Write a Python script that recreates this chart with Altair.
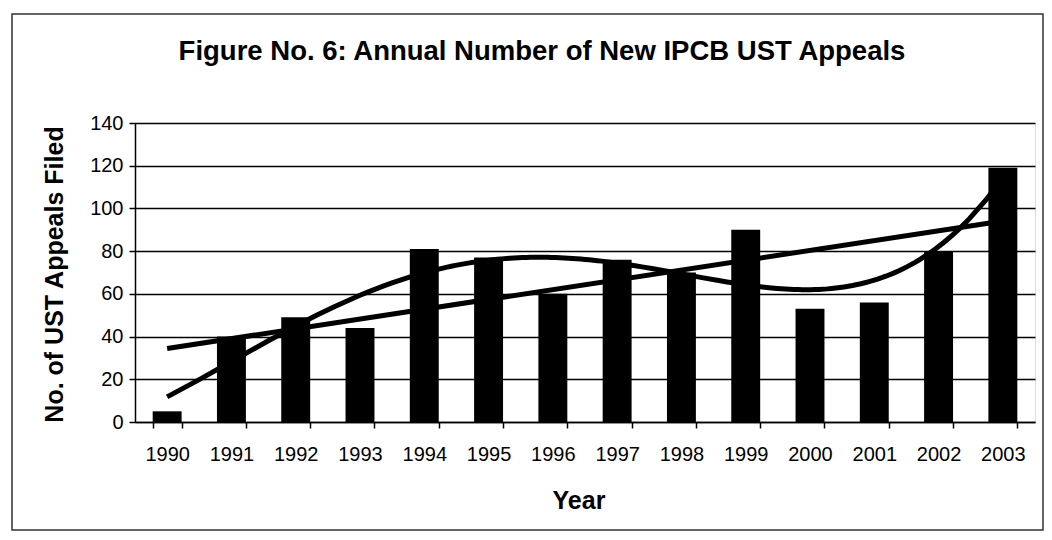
import altair as alt
import pandas as pd

years = [1990, 1991, 1992, 1993, 1994, 1995, 1996, 1997, 1998, 1999, 2000, 2001, 2002, 2003]
appeals = [5, 40, 49, 44, 81, 77, 60, 76, 70, 90, 53, 56, 80, 119]
y_ticks = [0, 20, 40, 60, 80, 100, 120, 140]
title_text = "Figure No. 6:  Annual Number of New IPCB UST Appeals"

df = pd.DataFrame({"Year": years, "Appeals": appeals})

FONT = "Liberation Sans"

y_enc = alt.Y(
    "Appeals:Q",
    scale=alt.Scale(domain=[0, 140], nice=False),
    axis=alt.Axis(
        values=y_ticks,
        title="No. of UST Appeals Filed",
        titleFontSize=25,
        titleFontWeight="bold",
        titleFont=FONT,
        titleColor="black",
        titleAngle=270,
        titleX=-73,
        titleY=151,
        titleAlign="center",
        titleBaseline="alphabetic",
        labelFontSize=20,
        labelFont=FONT,
        labelColor="black",
        labelPadding=6,
        tickSize=6,
        tickColor="black",
        tickWidth=1.5,
        domainColor="black",
        domainWidth=1.5,
        grid=True,
        gridColor="black",
        gridWidth=1.5,
    ),
)

bars = alt.Chart(df).mark_bar(color="black").encode(
    x=alt.X(
        "Year:O",
        scale=alt.Scale(paddingInner=0.55, paddingOuter=0.275),
        axis=alt.Axis(
            title="Year",
            titleFontSize=25,
            titleFontWeight="bold",
            titleFont=FONT,
            titleColor="black",
            titleX=443.5,
            titleY=86,
            titleAlign="center",
            titleBaseline="alphabetic",
            labelAngle=0,
            labelFontSize=20,
            labelFont=FONT,
            labelColor="black",
            labelPadding=16,
            tickSize=6,
            tickColor="black",
            tickWidth=1.5,
            tickBand="extent",
            domainColor="black",
            domainWidth=1.5,
            grid=False,
        ),
    ),
    y=y_enc,
)

x_line = alt.X("Year:Q", scale=alt.Scale(domain=[1989.5, 2003.5], nice=False, zero=False), axis=None)

linear = alt.Chart(df).transform_regression(
    "Year", "Appeals", method="linear"
).mark_line(color="black", strokeWidth=5).encode(x=x_line, y=alt.Y("Appeals:Q"))

poly = alt.Chart(df).transform_regression(
    "Year", "Appeals", method="poly", order=4
).mark_line(color="black", strokeWidth=5).encode(x=x_line, y=alt.Y("Appeals:Q"))

one = alt.Data(values=[{"f": 1}])

frame = alt.Chart(one).mark_rect(
    filled=False, stroke="#333333", strokeWidth=1.5
).encode(
    x=alt.value(-123), x2=alt.value(908), y=alt.value(-109), y2=alt.value(407)
)

title = alt.Chart(one).mark_text(
    font=FONT, fontSize=27.5, fontWeight="bold", color="black", align="center", baseline="alphabetic"
).encode(x=alt.value(407), y=alt.value(-63.5), text=alt.value(title_text))

chart = alt.layer(bars, linear, poly, frame, title).resolve_scale(x="independent").properties(
    width=900,
    height=299,
    autosize=alt.AutoSizeParams(type="none"),
    padding={"left": 127, "top": 115, "right": 9, "bottom": 110},
).configure_view(
    fill="#a0a0a0", stroke="black", strokeWidth=1.5
).configure(background="white")

chart.save("out.html", embed_options={"renderer": "svg", "actions": False})
